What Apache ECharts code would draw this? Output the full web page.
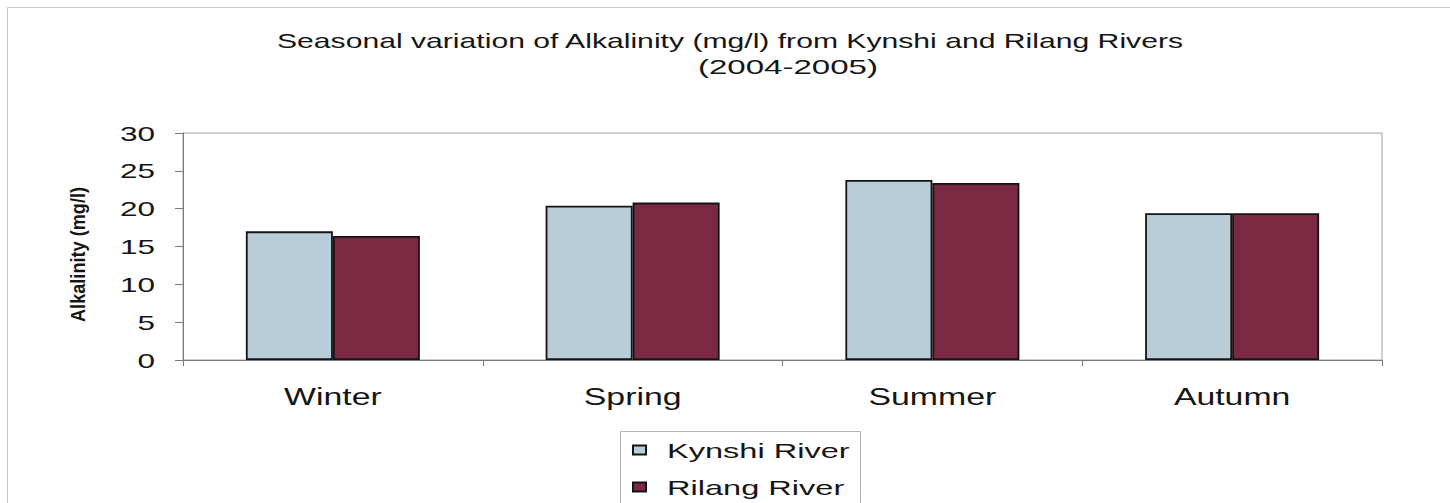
<!DOCTYPE html>
<html>
<head>
<meta charset="utf-8">
<script src="https://cdn.jsdelivr.net/npm/echarts@6/dist/echarts.min.js"></script>
<style>
  html, body { margin: 0; padding: 0; background: #fff; }
  #chart { width: 1450px; height: 503px; }
</style>
</head>
<body>
<div id="chart"></div>
<script>
// Seasons on the category axis
const seasons = ['Winter', 'Spring', 'Summer', 'Autumn'];
// Mean alkalinity (mg/l) per season
const kynshi = [17.0, 20.4, 23.8, 19.4];
const rilang = [16.4, 20.8, 23.4, 19.4];
// Value axis ticks
const yMin = 0, yMax = 30, yStep = 5;

const titleLine1 = 'Seasonal variation of Alkalinity (mg/l) from Kynshi and Rilang Rivers';
const titleLine2 = '(2004-2005)';
const yName = 'Alkalinity (mg/l)';

const FONT = '"Liberation Sans", Arial, sans-serif';
const INK = '#151515';
const chart = echarts.init(document.getElementById('chart'), null, { renderer: 'svg' });

chart.setOption({
  backgroundColor: '#ffffff',
  animation: false,
  graphic: [{
    type: 'rect',
    shape: { x: 7.5, y: 7.5, width: 1480, height: 520 },
    style: { fill: 'none', stroke: '#c8c8c8', lineWidth: 1 },
    silent: true
  }, {
    // frame around the legend
    type: 'rect',
    shape: { x: 620.5, y: 431.5, width: 240, height: 90 },
    style: { fill: 'none', stroke: '#b4b4b4', lineWidth: 1 },
    silent: true
  }],
  title: [{
    text: titleLine1,
    left: 725, top: 25, textAlign: 'center',
    textStyle: { fontFamily: FONT, fontSize: 21, fontWeight: 'normal', color: INK }
  }, {
    text: titleLine2,
    left: 783, top: 51, textAlign: 'center',
    textStyle: { fontFamily: FONT, fontSize: 21, fontWeight: 'normal', color: INK }
  }],
  legend: {
    orient: 'vertical',
    left: 632,
    top: 438,
    height: 120,
    icon: 'rect',
    itemWidth: 13,
    itemHeight: 9,
    itemGap: 13,
    padding: 0,
    textStyle: { fontFamily: FONT, fontSize: 21, color: INK, lineHeight: 24, padding: [0, 0, 0, 16] },
    data: ['Kynshi River', 'Rilang River']
  },
  grid: {
    left: 183, right: 68, top: 133, bottom: 143,
    show: true, borderColor: '#a0a0a0', borderWidth: 1, backgroundColor: '#ffffff'
  },
  xAxis: {
    type: 'category',
    data: seasons,
    axisLine: { lineStyle: { color: '#7a7a7a', width: 1 } },
    axisTick: { show: true, length: 6, lineStyle: { color: '#7a7a7a' } },
    axisLabel: { fontFamily: FONT, fontSize: 23, color: INK, margin: 25 }
  },
  yAxis: {
    type: 'value',
    min: yMin, max: yMax, interval: yStep,
    name: yName,
    nameLocation: 'middle',
    nameGap: 95,
    nameTextStyle: { fontFamily: FONT, fontSize: 20, fontWeight: 'bold', color: INK, padding: [0, 16, 0, 0] },
    splitLine: { show: false },
    axisLine: { show: true, lineStyle: { color: '#7a7a7a', width: 1 } },
    axisTick: { show: true, length: 8, lineStyle: { color: '#7a7a7a' } },
    axisLabel: { fontFamily: FONT, fontSize: 21, color: INK, margin: 28 }
  },
  series: [{
    name: 'Kynshi River',
    type: 'bar',
    data: kynshi,
    barWidth: 87,
    barGap: '0%',
    itemStyle: { color: '#b9cdd8', borderColor: '#141414', borderWidth: 1.8 }
  }, {
    name: 'Rilang River',
    type: 'bar',
    data: rilang,
    barWidth: 87,
    itemStyle: { color: '#7b2843', borderColor: '#141414', borderWidth: 1.8 }
  }]
});

// The lettering of this figure is set wide: stretch each text run horizontally.
const fixedWidths = {};
fixedWidths[titleLine1] = 906;
fixedWidths[titleLine2] = 180;
fixedWidths[yName] = 135;
function widen() {
  document.querySelectorAll('#chart svg text').forEach(function (t) {
    if (t.getAttribute('data-wide')) return;
    const s = t.textContent;
    const len = t.getComputedTextLength();
    if (!len) return;
    let target;
    if (fixedWidths[s] != null) target = fixedWidths[s];
    else if (seasons.indexOf(s) >= 0) target = len * 1.47;
    else if (/River$/.test(s)) target = len * 1.55;
    else target = len * 1.5;
    t.setAttribute('textLength', target.toFixed(1));
    t.setAttribute('lengthAdjust', 'spacingAndGlyphs');
    t.setAttribute('data-wide', '1');
  });
}
widen();
chart.on('finished', widen);
</script>
</body>
</html>
